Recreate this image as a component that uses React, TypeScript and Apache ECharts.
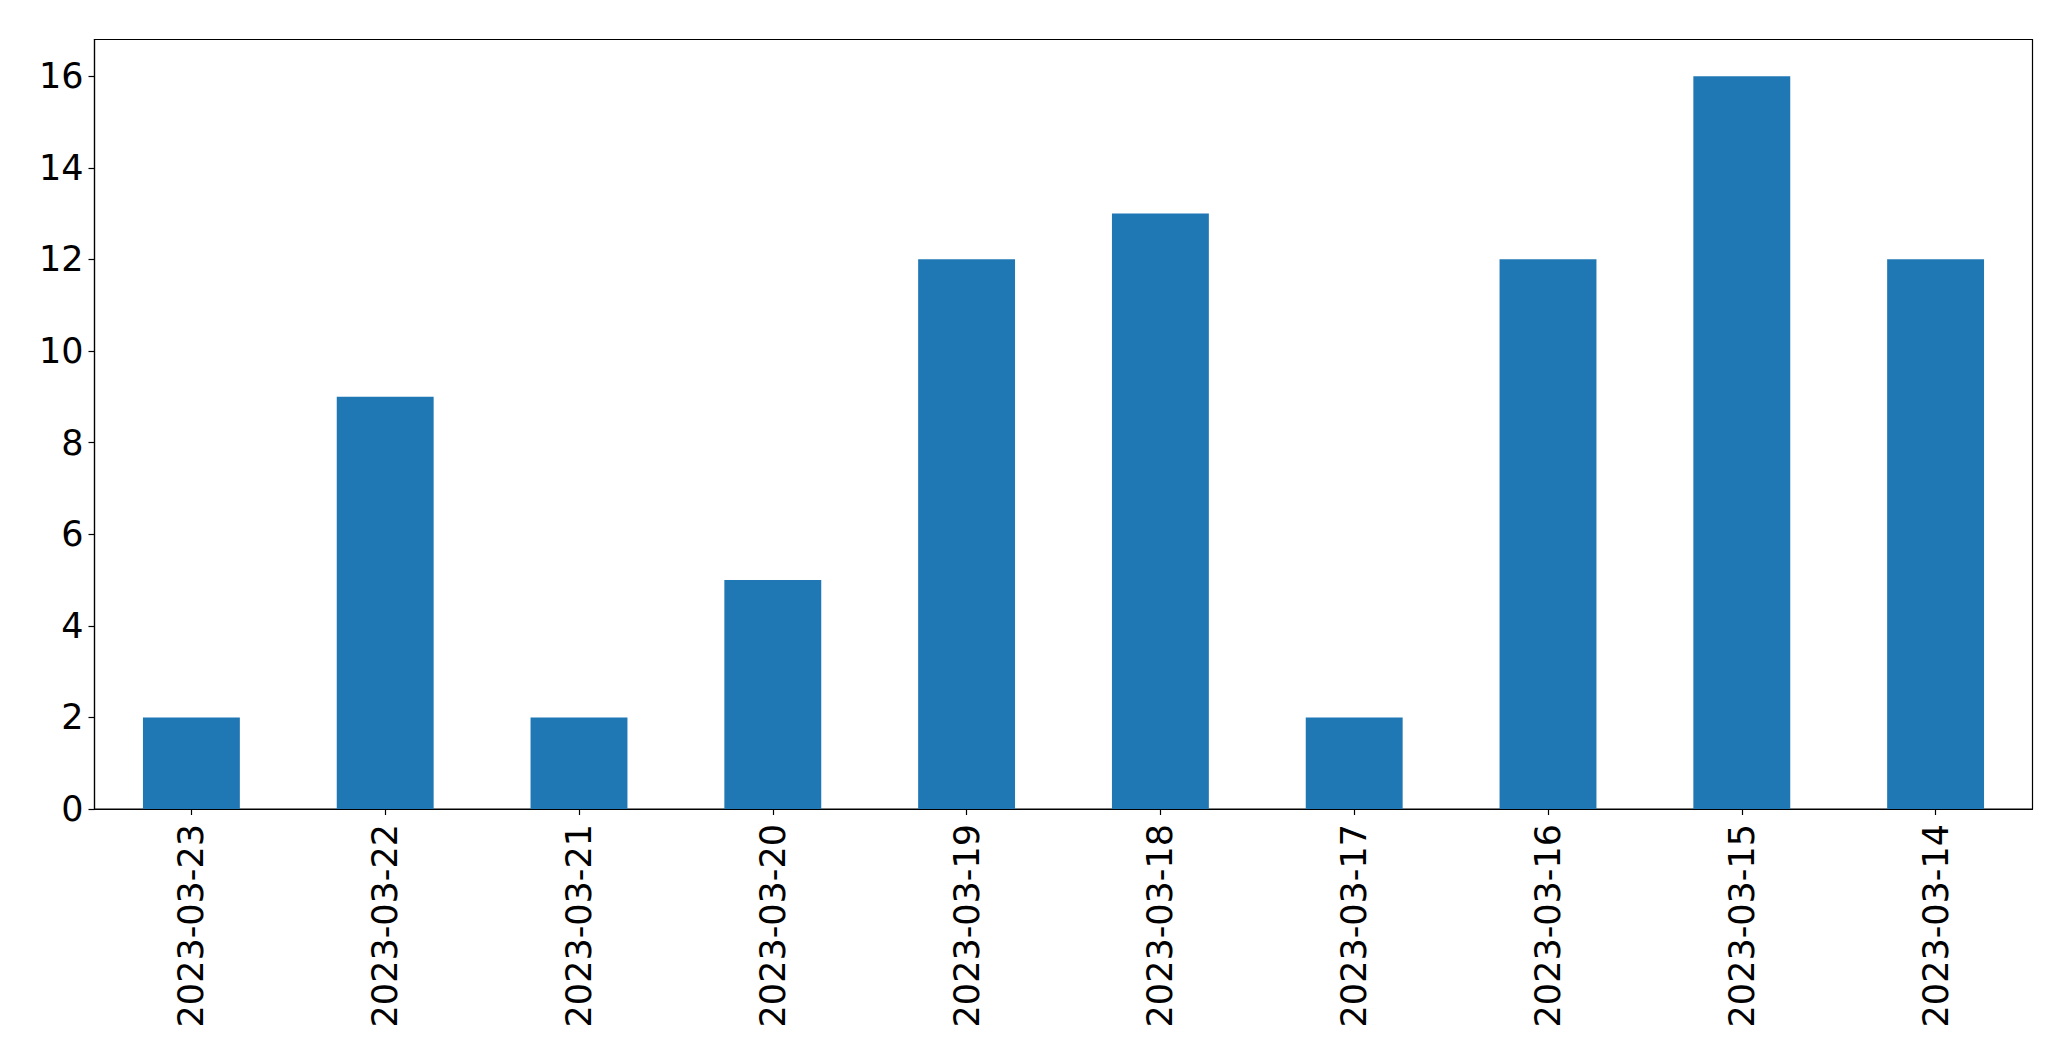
import React, { useEffect, useRef } from "react";
import * as echarts from "echarts";

const categories = [
  "2023-03-23",
  "2023-03-22",
  "2023-03-21",
  "2023-03-20",
  "2023-03-19",
  "2023-03-18",
  "2023-03-17",
  "2023-03-16",
  "2023-03-15",
  "2023-03-14",
];
const counts = [2, 9, 2, 5, 12, 13, 2, 12, 16, 12];
const yTicks = [0, 2, 4, 6, 8, 10, 12, 14, 16];
const yMax = 16.8;

export default function App() {
  const ref = useRef<HTMLDivElement>(null);
  useEffect(() => {
    if (!ref.current) return;
    const chart = echarts.init(ref.current, null, { renderer: "svg" });
    const font = "DejaVu Sans";
    chart.setOption({
      animation: false,
      backgroundColor: "#ffffff",
      grid: {
        left: 94.5,
        right: 38.5,
        top: 39.5,
        bottom: 252,
        show: true,
        borderColor: "#000000",
        borderWidth: 1.2,
        backgroundColor: "transparent",
      },
      xAxis: {
        type: "category",
        data: categories,
        boundaryGap: true,
        axisLine: { show: true, lineStyle: { color: "#000000", width: 1.2 } },
        axisTick: {
          show: true,
          alignWithLabel: true,
          length: 6,
          lineStyle: { color: "#000000", width: 1.2 },
        },
        axisLabel: {
          rotate: 90,
          margin: 15,
          color: "#000000",
          fontFamily: font,
          fontSize: 35,
          interval: 0,
        },
        splitLine: { show: false },
      },
      yAxis: {
        type: "value",
        min: 0,
        max: yMax,
        axisLine: { show: true, lineStyle: { color: "#000000", width: 1.2 } },
        axisTick: {
          show: true,
          length: 6,
          customValues: yTicks,
          lineStyle: { color: "#000000", width: 1.2 },
        },
        axisLabel: {
          customValues: yTicks,
          margin: 11,
          color: "#000000",
          fontFamily: font,
          fontSize: 35,
        },
        splitLine: { show: false },
      },
      series: [
        {
          type: "bar",
          data: counts,
          barWidth: "50%",
          itemStyle: { color: "#1f77b4" },
        },
      ],
    });
    return () => chart.dispose();
  }, []);
  return (
    <div
      ref={ref}
      style={{ position: "fixed", left: 0, top: 0, width: 2071, height: 1061 }}
    />
  );
}
